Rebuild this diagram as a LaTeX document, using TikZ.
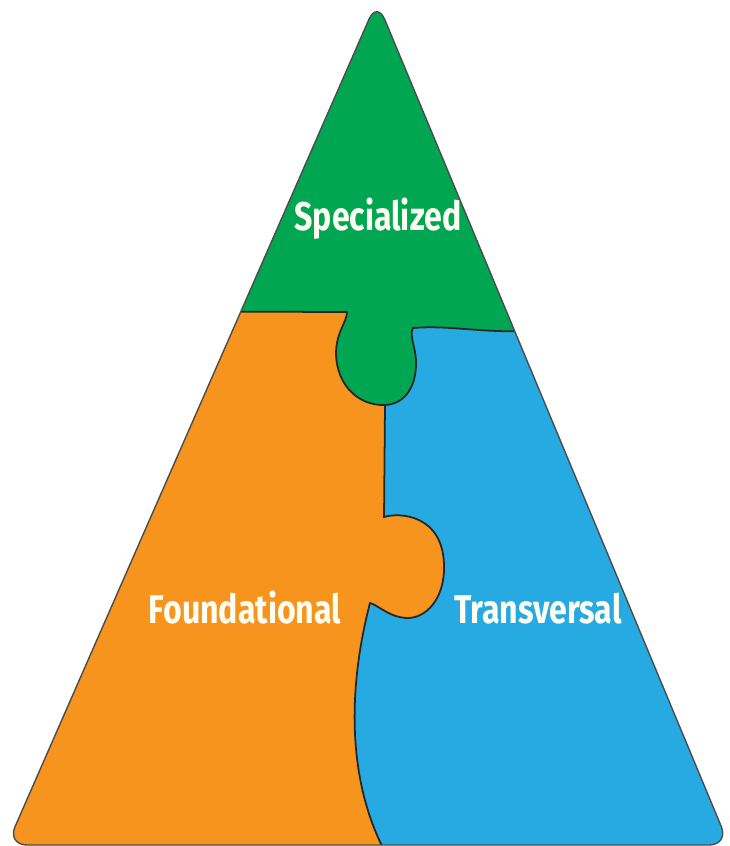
\documentclass[tikz,border=0pt]{standalone}
\usepackage{fontspec}
\newfontfamily\labelfont[FakeStretch=0.8]{Fira Sans}
\usepackage{tikz}
\definecolor{specgreen}{HTML}{00A651}
\definecolor{foundorange}{HTML}{F7941D}
\definecolor{transblue}{HTML}{27AAE1}
\definecolor{labelwhite}{HTML}{FFFEF2}

\begin{document}
\begin{tikzpicture}
  [x=0.01cm,y=-0.01cm,
   piecelabel/.style={text=labelwhite,anchor=base,inner sep=0pt,font=\labelfont\bfseries\fontsize{11.4}{13}\selectfont},
   seam/.style={draw=black!85,line width=0.5pt}]

  \useasboundingbox (0,0) rectangle (729,846);

  \begin{scope}
    \clip[rounded corners=2mm] (377,1) -- (7,845) -- (729,845) -- cycle;
    \fill[transblue] (0,0) rectangle (729,846);
    % top piece
    \fill[specgreen] (0,0) -- (0,311) -- (347,312) .. controls (347,322) and (336,332) .. (336,354)
      .. controls (337,387) and (360,406) .. (385,405) .. controls (406,404) and (417,385) .. (416,360)
      .. controls (415,345) and (409,335) .. (413,328) .. controls (450,325) and (480,333) .. (530,331)
      -- (729,331) -- (729,0) -- cycle;
    % left piece
    \fill[foundorange] (0,311) -- (347,312) .. controls (347,322) and (336,332) .. (336,354)
      .. controls (337,387) and (360,406) .. (385,405) -- (384,517)
      .. controls (400,512) and (443,515) .. (444,565) .. controls (445,600) and (425,618) .. (408,618)
      .. controls (390,618) and (378,605) .. (370,603) .. controls (355,660) and (340,760) .. (382,846)
      -- (0,846) -- cycle;
    % seams
    \draw[seam] (0,311) -- (347,312) .. controls (347,322) and (336,332) .. (336,354)
      .. controls (337,387) and (360,406) .. (385,405) .. controls (406,404) and (417,385) .. (416,360)
      .. controls (415,345) and (409,335) .. (413,328) .. controls (450,325) and (480,333) .. (530,331)
      -- (729,331);
    \draw[seam] (385,405) -- (384,517)
      .. controls (400,512) and (443,515) .. (444,565) .. controls (445,600) and (425,618) .. (408,618)
      .. controls (390,618) and (378,605) .. (370,603) .. controls (355,660) and (340,760) .. (382,846);
  \end{scope}
  \draw[black!70,line width=0.4pt,rounded corners=2mm] (377,1) -- (7,845) -- (729,845) -- cycle;

  \node[piecelabel] (spec) at (378,231) {Specialized};
  \node[piecelabel] (found) at (245,623) {Foundational};
  \node[piecelabel] (trans) at (538,623) {Transversal};
\end{tikzpicture}
\end{document}
